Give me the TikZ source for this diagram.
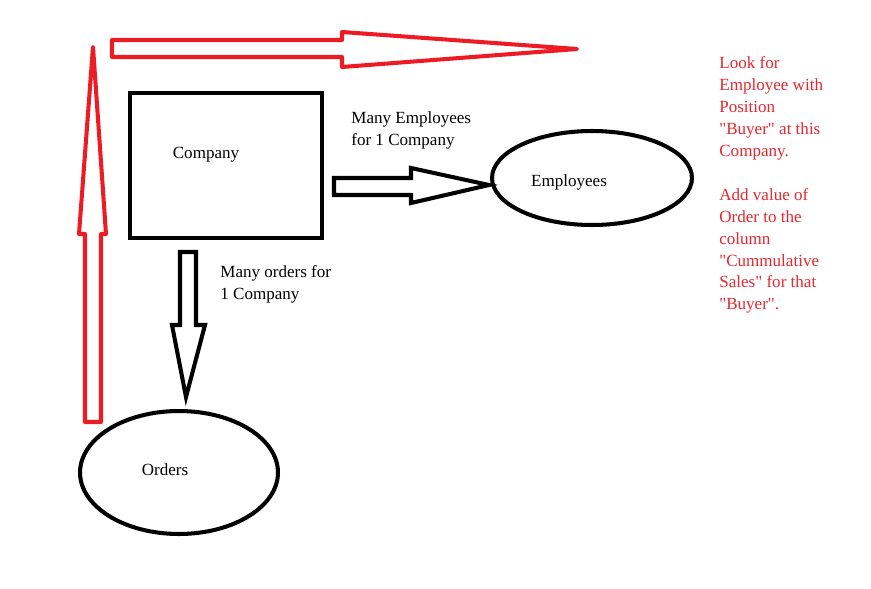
\documentclass[tikz,border=0pt]{standalone}
\usepackage{fontspec}
\setmainfont{Liberation Serif}
\usetikzlibrary{shapes.geometric}
\definecolor{pInk}{HTML}{000000}
\definecolor{pRed}{HTML}{ED1C24}
\definecolor{pNote}{HTML}{E8262E}
\newcommand{\qq}[1]{\textquotedbl#1\textquotedbl}
\tikzset{
  ent/.style      ={draw=pInk,line width=2.3pt,inner sep=0pt},
  entbox/.style   ={ent,rectangle,minimum width=3.84cm,minimum height=2.9cm},
  entoval/.style  ={ent,ellipse},
  lbl/.style      ={font=\fontsize{9.7}{12.5}\selectfont,text=pInk,inner sep=0pt},
  rel/.style      ={lbl,anchor=north west,align=left},
  note/.style     ={lbl,text=pNote,anchor=north west,align=left},
  blk/.style      ={draw=pInk,line width=2.3pt,line join=miter},
  redblk/.style   ={draw=pRed,line width=2.3pt,line join=round},
}
\begin{document}
\begin{tikzpicture}[x=0.02cm,y=-0.02cm]
\useasboundingbox (0,0) rectangle (871,588);
% entities
\node[entbox] (company) at (226,165.5) {};
\node[entoval,minimum width=4cm,minimum height=1.88cm] (employees) at (592,178) {};
\node[entoval,minimum width=3.96cm,minimum height=2.46cm] (orders) at (179,472.5) {};
\node[lbl] (companytxt) at (206,155) {Company};
\node[lbl] (employeestxt) at (569,182) {Employees};
\node[lbl] (orderstxt) at (165,470) {Orders};
% relation labels
\node[rel] (relemp) at (351,111) {Many Employees\\for 1 Company};
\node[rel] (relord) at (220,265) {Many orders for\\1 Company};
% black block arrows
\draw[blk] (334,178) -- (411,178) -- (411,168) -- (489,185)
  -- (411,203) -- (411,195) -- (334,195) -- cycle;
\draw[blk] (180,252) -- (196,252) -- (196,325) -- (205,325) -- (186,397)
  -- (172,325) -- (180,325) -- cycle;
% red block arrows
\draw[redblk] (85,422) -- (85,234) -- (79,234) -- (93,47) -- (106,234)
  -- (101,234) -- (101,422) -- cycle;
\draw[redblk] (112,40) -- (342,40) -- (342,32) -- (577,49) -- (342,67)
  -- (342,57) -- (112,57) -- cycle;
% note
\node[note] (look) at (719,56)
  {Look for\\Employee with\\Position\\\qq{Buyer} at this\\Company.\\[12.5pt]
   Add value of\\Order to the\\column\\\qq{Cummulative\\Sales} for that\\\qq{Buyer}.};
\end{tikzpicture}
\end{document}
